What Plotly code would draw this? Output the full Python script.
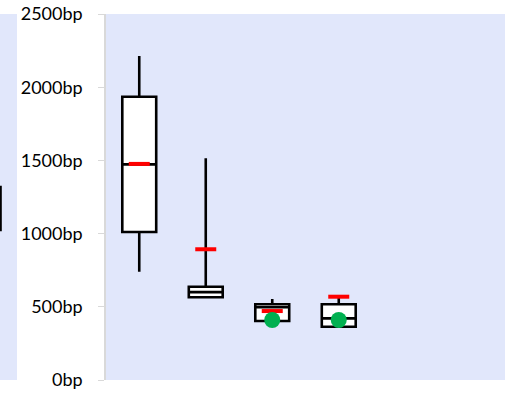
import plotly.graph_objects as go

# Data (base pairs)
positions = [0, 1, 2, 3]
q1 = [1011, 565, 403, 364]
median = [1473, 600, 497, 421]
q3 = [1935, 637, 517, 517]
lower = [740, 565, 403, 364]
upper = [2213, 1514, 553, 565]
means = [1476, 893, 471, 569]
dot_x = [2, 3]
dot_y = [410, 410]

# partly visible box on the neighbouring panel
side_q1 = [1025]
side_med = [1170]
side_q3 = [1318]

tick_vals = [0, 500, 1000, 1500, 2000, 2500]
tick_text = ["0bp", "500bp", "1000bp", "1500bp", "2000bp", "2500bp"]

bg = "#E1E7FB"

fig = go.Figure()

fig.add_trace(go.Box(
    x=positions, q1=q1, median=median, q3=q3,
    lowerfence=lower, upperfence=upper,
    width=0.51, whiskerwidth=0,
    fillcolor="white", line=dict(color="black", width=2.6),
    boxpoints=False, showlegend=False, hoverinfo="skip",
))

fig.add_trace(go.Scatter(
    x=positions, y=means, mode="markers",
    marker=dict(symbol="line-ew", size=15, line=dict(color="red", width=4)),
    showlegend=False,
))

fig.add_trace(go.Scatter(
    x=dot_x, y=dot_y, mode="markers",
    marker=dict(color="#00B050", size=16),
    showlegend=False,
))

fig.add_trace(go.Box(
    x=[0], q1=side_q1, median=side_med, q3=side_q3,
    lowerfence=side_q1, upperfence=side_q3,
    width=1, whiskerwidth=0,
    fillcolor="white", line=dict(color="black", width=2.6),
    boxpoints=False, showlegend=False, hoverinfo="skip",
    xaxis="x2", yaxis="y2",
))

fig.update_layout(
    width=508, height=393,
    margin=dict(l=0, r=3, t=14, b=13),
    paper_bgcolor="white",
    plot_bgcolor=bg,
    font=dict(family="Lato", size=18, color="black"),
    xaxis=dict(domain=[106 / 505, 1], range=[-0.5, 5.5], showticklabels=False,
               showgrid=False, zeroline=False, showline=False, ticks=""),
    yaxis=dict(range=[0, 2500], tickvals=tick_vals, ticktext=tick_text,
               showgrid=False, zeroline=False, showline=True, linecolor="#D9D9D9",
               linewidth=1.5, ticks="outside", ticklen=6, tickcolor="#D9D9D9",
               ticklabelstandoff=12),
    xaxis2=dict(domain=[0, 17 / 505], range=[0.47, 1.5], anchor="y2", visible=False),
    yaxis2=dict(domain=[0, 1], range=[0, 2500], anchor="x2", visible=False),
)

# drop the page's default body margin so the figure sits at the window corner
fig.write_html("out.html", config={"displayModeBar": False},
               post_script="document.body.style.margin='0';")
